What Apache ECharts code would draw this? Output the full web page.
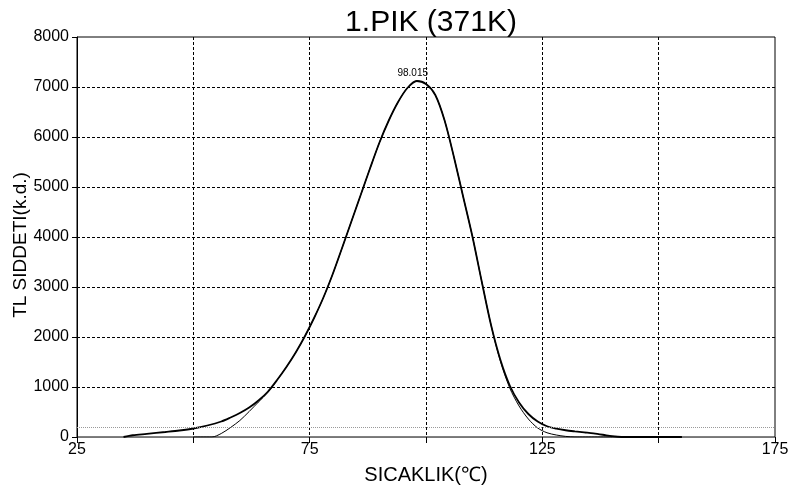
<!DOCTYPE html>
<html>
<head>
<meta charset="utf-8">
<title>1.PIK (371K)</title>
<script src="https://cdn.jsdelivr.net/npm/echarts@6/dist/echarts.min.js"></script>
<style>
  html, body { margin: 0; padding: 0; background: #fff; }
  #chart { width: 791px; height: 487px; }
</style>
</head>
<body>
<div id="chart"></div>
<script>
// Measured glow curve (temperature in °C, TL intensity in arbitrary units)
var expTemp = [35, 37, 40, 44, 47, 50, 53, 56, 58, 60, 62, 64, 66, 68, 70, 72, 74, 76, 78, 80,
  82, 84, 86, 88, 90, 92, 94, 96, 98.015, 100, 102, 104, 106, 108, 110, 112, 114, 116, 118, 120,
  122, 124, 126, 128, 130, 132, 134, 136, 138, 140, 142, 155];
var expIntensity = [0, 35, 62, 100, 130, 170, 230, 310, 390, 480, 590, 730, 905, 1140, 1400, 1690, 2020, 2390, 2800, 3270,
  3790, 4320, 4850, 5380, 5890, 6330, 6700, 6980, 7120, 7060, 6840, 6330, 5600, 4800, 4000, 3100, 2230, 1540, 1030, 690,
  460, 310, 215, 168, 135, 112, 92, 72, 45, 15, 0, 0];

// Fitted peak curve
var fitTemp = [50, 54, 56, 58, 60, 62, 64, 66, 68, 70, 72, 74, 76, 78, 80,
  82, 84, 86, 88, 90, 92, 94, 96, 98.015, 100, 102, 104, 106, 108, 110, 112, 114, 116, 118, 120,
  122, 124, 126, 128, 130, 132, 140];
var fitIntensity = [0, 0, 70, 190, 330, 510, 700, 890, 1140, 1400, 1690, 2020, 2390, 2800, 3270,
  3790, 4320, 4850, 5380, 5890, 6330, 6700, 6980, 7120, 7060, 6840, 6330, 5600, 4800, 4000, 3100, 2230, 1510, 980, 620,
  360, 180, 85, 40, 12, 0, 0];

// Peak position and background level
var peakTemp = 98.015;
var peakIntensity = 7120;
var backgroundLevel = 190;

// Axis ranges
var xMin = 25, xMax = 175, xStep = 25;
var xLabelValues = [25, 75, 125, 175];
var yMin = 0, yMax = 8000, yStep = 1000;

function pairs(xs, ys) {
  return xs.map(function (x, i) { return [x, ys[i]]; });
}

var font = 'Liberation Sans, Arial, sans-serif';
var chart = echarts.init(document.getElementById('chart'), null, { renderer: 'canvas' });

chart.setOption({
  animation: false,
  backgroundColor: '#fff',
  title: {
    text: '1.PIK (371K)',
    left: 426,
    textAlign: 'center',
    top: 3,
    textStyle: { fontFamily: font, fontSize: 30, fontWeight: 'normal', color: '#000' }
  },
  // vertical axis title, placed beside the tick labels
  graphic: [{
    type: 'text',
    x: 21,
    y: 245,
    rotation: Math.PI / 2,
    style: {
      text: 'TL SIDDETI(k.d.)',
      font: '19px ' + font,
      fill: '#000',
      align: 'center',
      verticalAlign: 'middle'
    }
  }],
  grid: {
    left: 77, right: 16, top: 37, bottom: 50,
    containLabel: false,
    outerBoundsMode: 'none',
    show: true, borderColor: '#000', borderWidth: 1, backgroundColor: 'transparent'
  },
  xAxis: {
    type: 'value',
    min: xMin, max: xMax, interval: xStep,
    name: 'SICAKLIK(℃)',
    nameLocation: 'middle',
    nameGap: 28,
    nameTextStyle: { fontFamily: font, fontSize: 20, color: '#000' },
    axisLine: { show: true, lineStyle: { color: '#777', width: 1 } },
    axisTick: { show: true, length: 6, inside: false, lineStyle: { color: '#000' } },
    axisLabel: {
      fontFamily: font, fontSize: 16, color: '#000', margin: 5,
      formatter: function (v) { return xLabelValues.indexOf(v) >= 0 ? String(v) : ''; }
    },
    splitLine: {
      show: true, showMinLine: false, showMaxLine: false,
      lineStyle: { color: '#000', width: 1, type: [3, 2] }
    }
  },
  yAxis: {
    type: 'value',
    min: yMin, max: yMax, interval: yStep,
    axisLine: { show: true, lineStyle: { color: '#000', width: 1 } },
    axisTick: { show: true, length: 5, lineStyle: { color: '#000' } },
    axisLabel: {
      fontFamily: font, fontSize: 16, color: '#000', margin: 8,
      formatter: function (v) { return String(v); }
    },
    splitLine: {
      show: true, showMinLine: false, showMaxLine: false,
      lineStyle: { color: '#000', width: 1, type: [3, 2] }
    }
  },
  series: [
    {
      name: 'fit',
      type: 'line',
      data: pairs(fitTemp, fitIntensity),
      showSymbol: false,
      smooth: 0.3,
      lineStyle: { color: '#000', width: 1 },
      z: 3,
      markLine: {
        silent: true,
        symbol: 'none',
        label: { show: false },
        lineStyle: { color: '#999', width: 1, type: [1, 1] },
        data: [{ yAxis: backgroundLevel }]
      }
    },
    {
      name: 'measured',
      type: 'line',
      data: pairs(expTemp, expIntensity),
      showSymbol: false,
      smooth: 0.3,
      lineStyle: { color: '#000', width: 1.8 },
      z: 4,
      markPoint: {
        symbol: 'circle',
        symbolSize: 0,
        data: [{ coord: [peakTemp, peakIntensity] }],
        label: {
          show: true,
          position: 'top',
          distance: 3,
          offset: [-4, 0],
          fontFamily: font, fontSize: 10, color: '#000',
          formatter: function () { return peakTemp.toFixed(3); }
        }
      }
    }
  ]
});
</script>
</body>
</html>
